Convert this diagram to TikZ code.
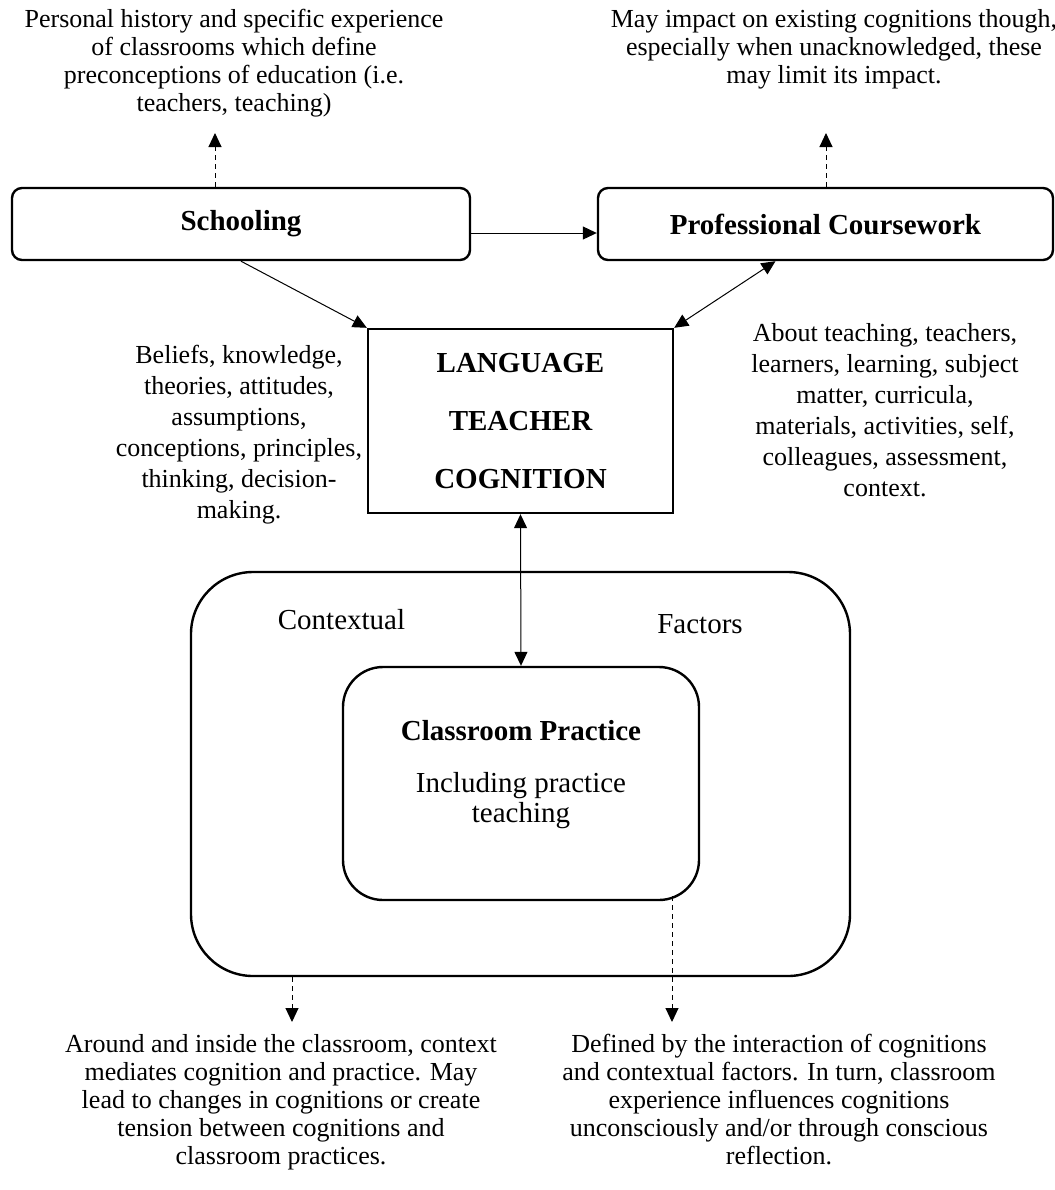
\documentclass[tikz,border=0pt]{standalone}
\usepackage{fontspec}
\setmainfont{Liberation Serif}
\usetikzlibrary{arrows.meta}
\begin{document}
\begin{tikzpicture}[x=0.5pt,y=-0.5pt,
  boxr/.style={draw,line width=1.2pt,rounded corners=5pt,inner sep=0pt,
    font=\fontsize{14.5}{17}\selectfont\bfseries},
  bigr/.style={draw,line width=1.2pt,inner sep=0pt},
  note/.style={align=center,inner sep=0pt,font=\fontsize{13}{14}\selectfont},
  sidenote/.style={align=center,inner sep=0pt,font=\fontsize{13}{15.5}\selectfont},
  lbl/.style={inner sep=0pt,font=\fontsize{14.5}{17}\selectfont},
  arr/.style={line width=0.5pt,-{Triangle[length=7pt,width=6.5pt]}},
  darr/.style={arr,dash pattern=on 2.5pt off 2pt}]
\useasboundingbox (0,0) rectangle (1055,1190);

% top boxes
\node[boxr,minimum width=229pt,minimum height=36pt] (sch) at (241,224) {Schooling};
\node[boxr,minimum width=227.5pt,minimum height=36pt] (prof) at (825.5,224) {Professional Coursework};

% LTC
\node[bigr,minimum width=152.5pt,minimum height=92pt,align=center,
  font=\fontsize{14.5}{29}\selectfont\bfseries] (ltc) at (520.5,421)
  {LANGUAGE\\TEACHER\\COGNITION};

% contextual factors
\node[bigr,rounded corners=31pt,minimum width=329.5pt,minimum height=202pt] (outer) at (520.5,774) {};
\node[bigr,rounded corners=20pt,minimum width=178pt,minimum height=116.5pt] (inner) at (521,783.5) {};
\node[lbl,anchor=base] (ctx) at (341.5,629) {Contextual};
\node[lbl,anchor=base] (fac) at (700,633) {Factors};
\node[lbl,anchor=base,font=\fontsize{14.5}{17}\selectfont\bfseries] (cpt) at (521,740) {Classroom Practice};
\node[lbl,anchor=north,align=center,font=\fontsize{14.5}{15}\selectfont] (cps) at (521,772) {Including practice\\teaching};

% annotations
\node[note,anchor=north] (n1) at (234,9) {Personal history and specific experience\\of classrooms which define\\preconceptions of education (i.e.\\teachers, teaching)};
\node[note,anchor=north] (n2) at (834,9) {May impact on existing cognitions though,\\especially when unacknowledged, these\\may limit its impact.};
\node[sidenote,anchor=north] (n3) at (239,345) {Beliefs, knowledge,\\theories, attitudes,\\assumptions,\\conceptions, principles,\\thinking, decision-\\making.};
\node[sidenote,anchor=north] (n4) at (885,323) {About teaching, teachers,\\learners, learning, subject\\matter, curricula,\\materials, activities, self,\\colleagues, assessment,\\context.};
\node[note,anchor=north] (n5) at (281,1034) {Around and inside the classroom, context\\mediates cognition and practice. May\\lead to changes in cognitions or create\\tension between cognitions and\\classroom practices.};
\node[note,anchor=north] (n6) at (779,1034) {Defined by the interaction of cognitions\\and contextual factors. In turn, classroom\\experience influences cognitions\\unconsciously and/or through conscious\\reflection.};

% free ends
\coordinate (t1) at (215,133);
\coordinate (t2) at (826,133);
\coordinate (b1) at (292,1022);
\coordinate (b2) at (672,1022);
\coordinate (b2s) at (672,896);

% connectors
\draw[arr] ([yshift=-4.5pt]sch.east) -- ([yshift=-4.5pt]prof.west);
\draw[arr] (sch.south) -- (ltc.north west);
\draw[arr,{Triangle[length=7pt,width=6.5pt]}-{Triangle[length=7pt,width=6.5pt]}] ([xshift=-25pt]prof.south) -- (ltc.north east);
\draw[arr,{Triangle[length=7pt,width=6.5pt]}-{Triangle[length=7pt,width=6.5pt]}] (ltc.south) -- (inner.north);
\draw[darr] (sch.north -| t1) -- (t1);
\draw[darr] (prof.north -| t2) -- (t2);
\draw[darr] (outer.south -| b1) -- (b1);
\draw[darr] (b2s) -- (b2);
\end{tikzpicture}
\end{document}
